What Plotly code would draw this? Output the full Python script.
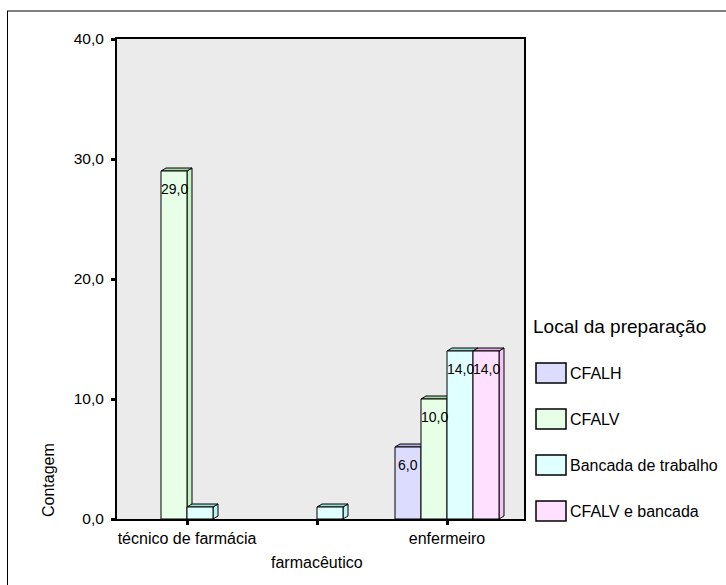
import plotly.graph_objects as go

# ---------------- data ----------------
categories = ["técnico de farmácia", "farmacêutico", "enfermeiro"]
series_names = ["CFALH", "CFALV", "Bancada de trabalho", "CFALV e bancada"]
cfalh = [0, 0, 6]
cfalv = [29, 0, 10]
bancada = [1, 1, 14]
cfalv_bancada = [0, 0, 14]
y_tick_values = [0, 10, 20, 30, 40]
y_tick_labels = ["0,0", "10,0", "20,0", "30,0", "40,0"]
legend_title = "Local da preparação"
y_title = "Contagem"

series_values = [cfalh, cfalv, bancada, cfalv_bancada]

# ---------------- style ----------------
front_colors = ["#dcdcff", "#e6ffe6", "#e0ffff", "#ffe0ff"]
top_colors = ["#b4b4e6", "#a8d8a8", "#9fdcdc", "#e6aae6"]
side_colors = ["#c4c4f0", "#c4f2c4", "#b8f2f2", "#f5c4f5"]
FONT = "Liberation Sans, Arial, sans-serif"

W, H = 726, 585
PL, PR, PT, PB = 117, 524, 39, 519          # plot area in pixels
X_RANGE = [-70 / 130, 2 + 77 / 130]
Y_RANGE = [0, 40]
BAR_W = 0.2
OFFSETS = [-0.3, -0.1, 0.1, 0.3]
DX = 5 / 130          # depth offset in x units (5 px)
DY = 3 / 12           # depth offset in y units (3 px)


def px2x(px):
    return (px - PL) / (PR - PL)


def px2y(py):
    return (PB - py) / (PB - PT)


fig = go.Figure()
shapes = []
annotations = []

x_pos = list(range(len(categories)))

# 3-D faces (drawn beneath the bar fronts), painter's order left to right
for ci, xc in enumerate(x_pos):
    for si, vals in enumerate(series_values):
        v = vals[ci]
        if not v:
            continue
        xl = xc + OFFSETS[si] - BAR_W / 2
        xr = xc + OFFSETS[si] + BAR_W / 2
        side = (f"M {xr},0 L {xr + DX},{DY} L {xr + DX},{v + DY} "
                f"L {xr},{v} Z")
        top = (f"M {xl},{v} L {xl + DX},{v + DY} L {xr + DX},{v + DY} "
               f"L {xr},{v} Z")
        shapes.append(dict(type="path", path=side, xref="x", yref="y",
                           layer="below", fillcolor=side_colors[si],
                           line=dict(color="black", width=1)))
        shapes.append(dict(type="path", path=top, xref="x", yref="y",
                           layer="below", fillcolor=top_colors[si],
                           line=dict(color="black", width=1)))

# bar fronts
for si, (name, vals) in enumerate(zip(series_names, series_values)):
    fig.add_trace(go.Bar(
        name=name,
        x=x_pos,
        y=[v if v else None for v in vals],
        offset=OFFSETS[si] - BAR_W / 2,
        width=BAR_W,
        marker=dict(color=front_colors[si], line=dict(color="black", width=1)),
        showlegend=False,
        hoverinfo="x+y+name",
    ))
    for ci, v in enumerate(vals):
        if v >= 2:
            annotations.append(dict(
                x=x_pos[ci] + OFFSETS[si], y=v, xref="x", yref="y",
                text=f"{v:.1f}".replace(".", ","), showarrow=False,
                yshift=-18, font=dict(family=FONT, size=14, color="black"),
            ))

# staggered category label
annotations.append(dict(
    x=x_pos[1], y=px2y(562), xref="x", yref="paper", text=categories[1],
    showarrow=False, xanchor="center", yanchor="middle",
    font=dict(family=FONT, size=16, color="black"),
))

# y title
annotations.append(dict(
    x=px2x(48.5), y=px2y(480.5), xref="paper", yref="paper", text=y_title,
    textangle=-90, showarrow=False, xanchor="center", yanchor="middle",
    font=dict(family=FONT, size=16, color="black"),
))

# manual legend
annotations.append(dict(
    x=px2x(531), y=px2y(326), xref="paper", yref="paper", text=legend_title,
    showarrow=False, xanchor="left", yanchor="middle",
    font=dict(family=FONT, size=19, color="black"),
))
legend_centers = [373, 419, 465, 511]
for si, name in enumerate(series_names):
    cy = legend_centers[si]
    shapes.append(dict(type="rect", xref="paper", yref="paper", layer="above",
                       x0=px2x(536), x1=px2x(566), y0=px2y(cy + 10), y1=px2y(cy - 10),
                       fillcolor=front_colors[si], line=dict(color="black", width=1.5)))
    annotations.append(dict(
        x=px2x(567.5), y=px2y(cy), xref="paper", yref="paper", text=name,
        showarrow=False, xanchor="left", yanchor="middle",
        font=dict(family=FONT, size=16, color="black"),
    ))

# outer frame (left and top edges visible)
shapes.append(dict(type="line", xref="paper", yref="paper", layer="above",
                   x0=px2x(7.5), x1=px2x(7.5), y0=px2y(11), y1=px2y(620),
                   line=dict(color="black", width=1)))
shapes.append(dict(type="line", xref="paper", yref="paper", layer="above",
                   x0=px2x(7), x1=px2x(760), y0=px2y(11), y1=px2y(11),
                   line=dict(color="black", width=1)))

fig.update_layout(
    width=W, height=H,
    margin=dict(l=PL, r=W - PR, t=PT, b=H - PB, pad=0),
    paper_bgcolor="white",
    plot_bgcolor="#ebebeb",
    barmode="overlay",
    showlegend=False,
    font=dict(family=FONT, color="black"),
    shapes=shapes,
    annotations=annotations,
    xaxis=dict(
        range=X_RANGE, tickmode="array", tickvals=x_pos,
        ticktext=[c if i % 2 == 0 else "" for i, c in enumerate(categories)],
        ticks="outside", ticklen=4, tickwidth=3, tickcolor="black",
        showline=True, linecolor="black", linewidth=2, mirror=True,
        showgrid=False, zeroline=False,
        tickfont=dict(family=FONT, size=16, color="black"),
        fixedrange=True,
    ),
    yaxis=dict(
        range=Y_RANGE, tickmode="array", tickvals=y_tick_values,
        ticktext=y_tick_labels,
        ticks="outside", ticklen=4, tickwidth=3, tickcolor="black",
        showline=True, linecolor="black", linewidth=2, mirror=True,
        showgrid=False, zeroline=False,
        tickfont=dict(family=FONT, size=15.5, color="black"),
        ticklabelstandoff=4,
        fixedrange=True,
    ),
)

fig.write_html("out.html")
